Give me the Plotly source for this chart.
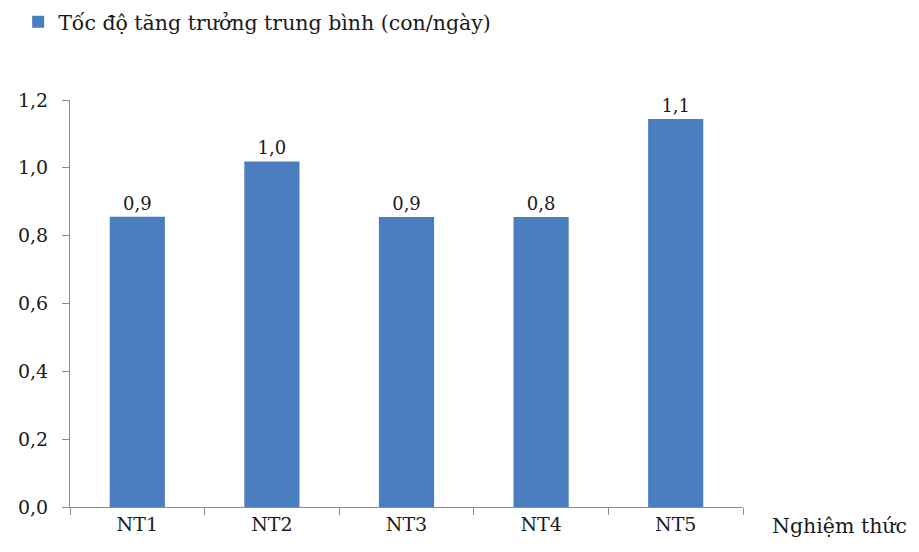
import plotly.graph_objects as go

categories = ["NT1", "NT2", "NT3", "NT4", "NT5"]
values = [0.856, 1.019, 0.855, 0.855, 1.144]
value_labels = ["0,9", "1,0", "0,9", "0,8", "1,1"]
series_name = "Tốc độ tăng trưởng trung bình (con/ngày)"
y_ticks = [0.0, 0.2, 0.4, 0.6, 0.8, 1.0, 1.2]
y_tick_labels = ["0,0", "0,2", "0,4", "0,6", "0,8", "1,0", "1,2"]
x_title = "Nghiệm thức"

FONT = "DejaVu Serif"
BAR = "#4A7EBF"
AXIS = "#8C8C8C"
TXT = "#1a1a1a"

fig = go.Figure()
fig.add_trace(go.Bar(
    x=categories, y=values, name=series_name,
    marker=dict(color=BAR, line=dict(width=0)),
    text=value_labels, textposition="outside", textangle=0,
    textfont=dict(family=FONT, size=18, color=TXT),
    cliponaxis=False, showlegend=True,
))

fig.update_layout(
    width=919, height=552,
    margin=dict(l=62, r=184, t=92, b=53, autoexpand=False),
    paper_bgcolor="white", plot_bgcolor="white",
    font=dict(family=FONT, size=18, color=TXT),
    bargap=0.59,
    showlegend=True,
    legend=dict(x=-0.077, y=1.192, xanchor="left", yanchor="middle",
                font=dict(family=FONT, size=20.5, color=TXT),
                bgcolor="rgba(0,0,0,0)", itemwidth=30),
    xaxis=dict(showline=True, linecolor=AXIS, linewidth=1.2,
               ticks="outside", tickson="boundaries", ticklen=7, tickcolor=AXIS,
               showgrid=False, tickfont=dict(family=FONT, size=19, color=TXT)),
    yaxis=dict(range=[0, 1.2], showline=True, linecolor=AXIS, linewidth=1.2,
               ticks="outside", ticklen=7, tickcolor=AXIS,
               tickvals=y_ticks, ticktext=y_tick_labels, showgrid=False,
               zeroline=False, ticklabelstandoff=10,
               tickfont=dict(family=FONT, size=19, color=TXT)),
    annotations=[dict(text=x_title, xref="paper", yref="paper", x=1.04, y=0,
                      xanchor="left", yanchor="top", yshift=-5, showarrow=False,
                      font=dict(family=FONT, size=20.5, color=TXT))],
)

fig.write_html("out.html")
